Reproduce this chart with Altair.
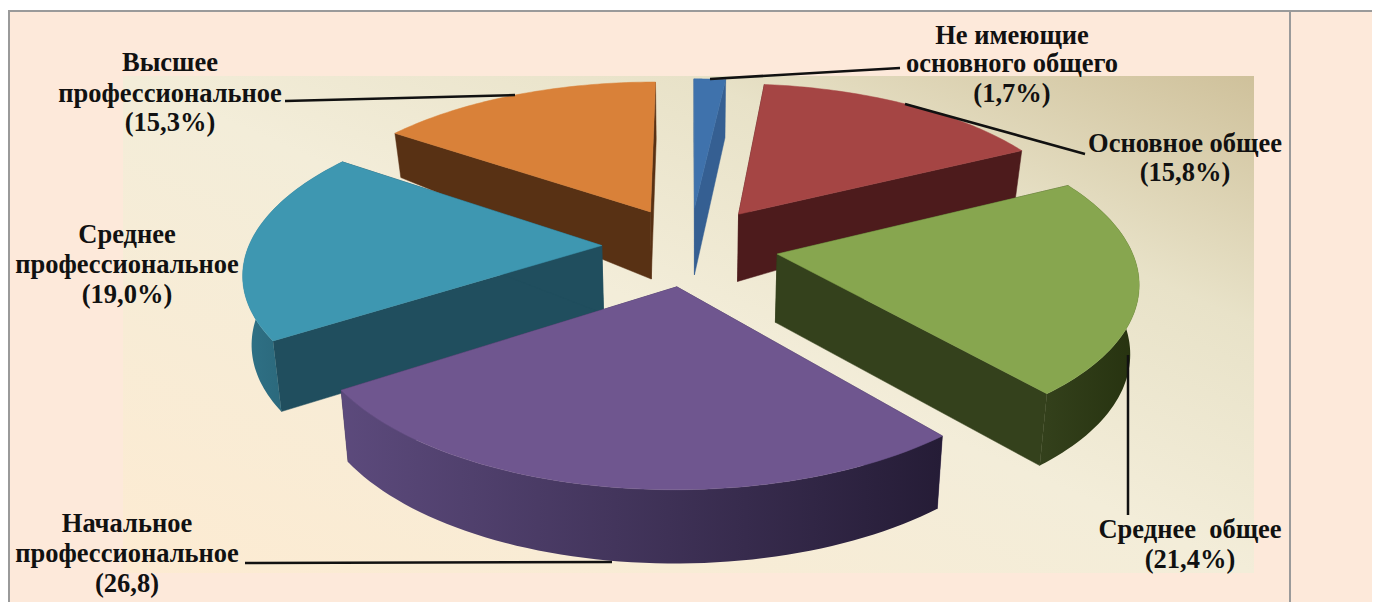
import numpy as np
import altair as alt

# Values (percent)
categories = ["Не имеющие основного общего", "Основное общее", "Среднее общее",
              "Начальное профессиональное", "Среднее профессиональное", "Высшее профессиональное"]
shares = [1.7, 15.8, 21.4, 26.8, 19.0, 15.3]
top_colors = ["#3F72AC", "#A54544", "#87A64F", "#6F568F", "#3E97B1", "#D98139"]
cut_colors = ["#355F92", "#4D1B1C", "#34411C", "#3C2E55", "#204E5E", "#583114"]
rim_from = ["#3A669A", "#5E2625", "#34411C", "#5C4A7C", "#2F7287", "#6B3C18"]
rim_to = ["#2E527D", "#3E1516", "#26320F", "#251C36", "#25596A", "#4E2B11"]
draw_order = [0, 1, 5, 4, 2, 3]
show_rim = [False, False, True, True, True, False]

label_text = ["Не имеющие", "основного общего", "(1,7%)",
              "Основное общее", "(15,8%)",
              "Среднее\u00a0 общее", "(21,4%)",
              "Начальное", "профессиональное", "(26,8)",
              "Среднее", "профессиональное", "(19,0%)",
              "Высшее", "профессиональное", "(15,3%)"]
label_x = [1012, 1012, 1012, 1185, 1185, 1190, 1190, 127, 127, 127, 127, 127, 127, 170, 170, 170]
label_y = [36, 64, 94, 144, 173, 530, 560, 524, 554, 584, 235, 265, 295, 63, 94, 123]
leaders = [[(710, 79), (900, 68)], [(905, 104), (1085, 154)], [(1128, 355), (1128, 515)],
           [(245, 563), (612, 562)], [(285, 101), (515, 95)]]

# View of the 3D pie
CX, CY, R, TILT, PERSP, EXPLODE = 690.0, 246.0, 353.0, 0.45, 0.15, 0.25
BOTTOM_SHRINK = 0.98


def project(px, pz):
    s = 1.0 / (1.0 + PERSP * pz)
    return CX + R * px * s, CY - R * TILT * pz * s


def depth(pz):
    return float(np.interp(pz, [-1.3, 0.25, 0.8, 1.3], [74, 67, 44, 60]))


def down(px, pz):
    x, y = project(px, pz)
    return CX + (x - CX) * BOTTOM_SHRINK, y + depth(pz)


def feat(points, **props):
    pts = [[float(a), float(b)] for a, b in points]
    pts.append(pts[0])
    return {"type": "Feature", "properties": props,
            "geometry": {"type": "Polygon", "coordinates": [pts]}}


edges = np.cumsum([0.0] + shares) / 100.0 * 2 * np.pi
layers = []

PROJ = alt.Projection(type="identity", scale=1, translate=[-8, -8])

page = alt.Chart(alt.Data(values=[
    feat([(8, 10), (1380, 10), (1380, 602), (8, 602)])
])).mark_geoshape(fill="#FDE9DA", stroke=None).project(**PROJ.to_dict())
layers.append(page)

backdrop = alt.Chart(alt.Data(values=[
    feat([(123, 76), (1254, 76), (1254, 573), (123, 573)])
])).mark_geoshape(
    fill=alt.LinearGradient(
        gradient="linear", x1=0, y1=1, x2=1, y2=0,
        stops=[alt.GradientStop(offset=0, color="#FDEBD2"),
               alt.GradientStop(offset=0.5, color="#F3EDD9"),
               alt.GradientStop(offset=0.75, color="#E8E2C8"),
               alt.GradientStop(offset=1, color="#CFC19B")]),
    stroke=None).project(**PROJ.to_dict())
layers.append(backdrop)

frame = [[(8, 10), (10, 10), (10, 602), (8, 602)],
         [(8, 10), (1380, 10), (1380, 12), (8, 12)],
         [(1289, 10), (1291, 10), (1291, 602), (1289, 602)]]
layers.append(alt.Chart(alt.Data(values=[feat(f) for f in frame])).mark_geoshape(
    fill="#9A9A9A", stroke=None).project(**PROJ.to_dict()))

for i in draw_order:
    a0, a1 = edges[i], edges[i + 1]
    mid = (a0 + a1) / 2
    ox, oz = EXPLODE * np.sin(mid), EXPLODE * np.cos(mid)
    ang = np.linspace(a0, a1, 60)
    rim = [(ox + np.sin(a), oz + np.cos(a)) for a in ang]
    top = [project(ox, oz)] + [project(*p) for p in rim]
    rim_poly = [project(*p) for p in rim] + [down(*p) for p in rim[::-1]]
    cut0 = [project(ox, oz), project(*rim[0]), down(*rim[0]), down(ox, oz)]
    cut1 = [project(ox, oz), project(*rim[-1]), down(*rim[-1]), down(ox, oz)]
    layers.append(alt.Chart(alt.Data(values=[feat(cut0), feat(cut1)])).mark_geoshape(
        fill=cut_colors[i], stroke=cut_colors[i], strokeWidth=0.5).project(**PROJ.to_dict()))
    if show_rim[i]:
        layers.append(alt.Chart(alt.Data(values=[feat(rim_poly)])).mark_geoshape(
            fill=alt.LinearGradient(gradient="linear", x1=0, y1=0, x2=1, y2=0,
                                    stops=[alt.GradientStop(offset=0, color=rim_from[i]),
                                           alt.GradientStop(offset=1, color=rim_to[i])]),
            stroke=None).project(**PROJ.to_dict()))
    layers.append(alt.Chart(alt.Data(values=[feat(top, name=categories[i])])).mark_geoshape(
        fill=top_colors[i], stroke=top_colors[i], strokeWidth=0.5).project(**PROJ.to_dict()))

lines = [{"type": "Feature", "properties": {},
          "geometry": {"type": "LineString", "coordinates": [list(p) for p in seg]}} for seg in leaders]
layers.append(alt.Chart(alt.Data(values=lines)).mark_geoshape(
    filled=False, stroke="#111111", strokeWidth=2.5).project(**PROJ.to_dict()))

text_rows = [{"t": t, "x": x, "y": y} for t, x, y in zip(label_text, label_x, label_y)]
xs = alt.Scale(domain=[8, 1380], range=[0, 1372])
ys = alt.Scale(domain=[8, 602], range=[0, 594])
layers.append(alt.Chart(alt.Data(values=text_rows)).mark_text(
    font="Liberation Serif", fontWeight="bold", fontSize=26.5, color="#111111",
    align="center", baseline="middle").encode(
    x=alt.X("x:Q", scale=xs, axis=None),
    y=alt.Y("y:Q", scale=ys, axis=None),
    text="t:N"))

chart = alt.layer(*layers).properties(
    width=1364, height=594, padding=0, background="white",
    autosize=alt.AutoSizeParams(type="none")
).configure_view(stroke=None)
chart.save("out.html", embed_options={"renderer": "svg", "actions": False})
